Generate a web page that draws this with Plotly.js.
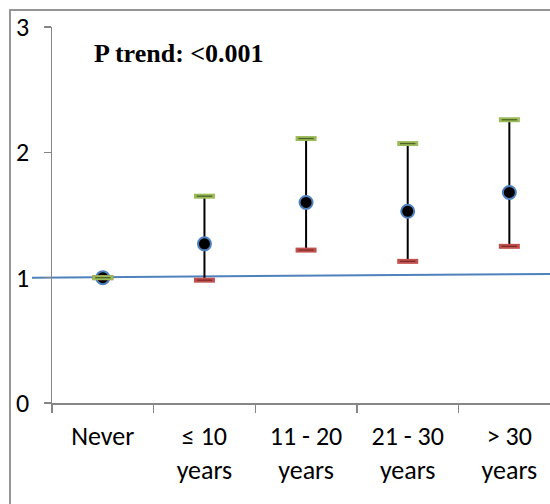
<!DOCTYPE html>
<html>
<head>
<meta charset="utf-8">
<script src="https://cdn.plot.ly/plotly-3.0.1.min.js"></script>
<style>
  html, body { margin: 0; padding: 0; background: #fff; }
  #chart { width: 550px; height: 504px; }
</style>
</head>
<body>
<div id="chart"></div>
<script>
// ---- data ----
var categories = ["Never", "≤ 10<br>years", "11 - 20<br>years", "21 - 30<br>years", "> 30<br>years"];
var estimate   = [1.00, 1.27, 1.60, 1.53, 1.68];
var upperCI    = [1.00, 1.65, 2.11, 2.07, 2.26];
var lowerCI    = [1.00, 0.98, 1.22, 1.13, 1.25];
var refLineY   = [1.00, 1.03];
var yTickVals  = [0, 1, 2, 3];
var annotationText = "P trend: <0.001";

// ---- layout constants (pixel geometry of the plot area) ----
var W = 550, H = 504;
var plotLeft = 52, plotRight = 550, plotTop = 27, plotBottom = 403;
var frameLeft = 10, frameTop = 10;
function fx(px) { return px / W; }          // figure px -> paper x
function fy(py) { return 1 - py / H; }      // figure px -> paper y

var errPlus = upperCI.map(function (u, i) { return u - estimate[i]; });
var errMinus = lowerCI.map(function (l, i) { return estimate[i] - l; });

var font = "Carlito, Calibri, 'Noto Sans', 'Open Sans', sans-serif";
var frameColor = "#969696";

var traces = [
  // outer chart frame, drawn on a hidden full-figure pixel axis pair
  {
    type: "scatter", mode: "lines", xaxis: "x2", yaxis: "y2",
    x: [frameLeft, frameLeft, W + 20], y: [H + 20, frameTop, frameTop],
    line: {color: frameColor, width: 2}, cliponaxis: false,
    hoverinfo: "skip", showlegend: false
  },
  {
    type: "scatter", mode: "markers", x: categories, y: estimate,
    marker: {symbol: "circle", size: 13, color: "#000000", line: {color: "#4F81BD", width: 2}},
    error_y: {type: "data", symmetric: false, array: errPlus, arrayminus: errMinus,
              color: "#000000", thickness: 2, width: 0},
    hoverinfo: "x+y", showlegend: false
  },
  {
    type: "scatter", mode: "markers", x: categories, y: lowerCI,
    marker: {symbol: "line-ew", size: 15, color: "#C0504D", line: {color: "#C0504D", width: 5}},
    showlegend: false, hoverinfo: "y"
  },
  {
    type: "scatter", mode: "markers", x: categories, y: lowerCI,
    marker: {symbol: "line-ew", size: 11, color: "#7F2A28", line: {color: "#7F2A28", width: 1.3}},
    showlegend: false, hoverinfo: "skip"
  },
  {
    type: "scatter", mode: "markers", x: categories, y: upperCI,
    marker: {symbol: "line-ew", size: 15, color: "#9BBB59", line: {color: "#9BBB59", width: 5}},
    showlegend: false, hoverinfo: "y"
  },
  {
    type: "scatter", mode: "markers", x: categories, y: upperCI,
    marker: {symbol: "line-ew", size: 11, color: "#4F6228", line: {color: "#4F6228", width: 1.3}},
    showlegend: false, hoverinfo: "skip"
  }
];

var layout = {
  width: W, height: H,
  margin: {l: 0, r: 0, t: 0, b: 0, pad: 0},
  paper_bgcolor: "#ffffff", plot_bgcolor: "rgba(0,0,0,0)",
  showlegend: false,
  font: {family: font, size: 26, color: "#000000"},
  xaxis: {
    domain: [fx(plotLeft), fx(plotRight)], automargin: false,
    type: "category", range: [-0.5, 4.4], tickson: "boundaries",
    ticks: "outside", ticklen: 8, tickwidth: 1.5, tickcolor: "#868686",
    showline: true, linecolor: "#868686", linewidth: 1.5, showgrid: false, zeroline: false,
    tickfont: {family: font, size: 26, color: "#000000"}, ticklabelstandoff: 9,
    fixedrange: true
  },
  yaxis: {
    domain: [fy(plotBottom), fy(plotTop)], automargin: false,
    range: [0, 3], tickmode: "array", tickvals: yTickVals, ticktext: yTickVals.map(String),
    ticks: "outside", ticklen: 7, tickwidth: 1.5, tickcolor: "#868686",
    showline: true, linecolor: "#868686", linewidth: 1.5, showgrid: false, zeroline: false,
    tickfont: {family: font, size: 26, color: "#000000"}, ticklabelstandoff: 9,
    fixedrange: true
  },
  xaxis2: {domain: [0, 1], range: [0, W], visible: false, fixedrange: true},
  yaxis2: {domain: [0, 1], range: [H, 0], visible: false, fixedrange: true, anchor: "x2"},
  shapes: [
    {type: "line", xref: "paper", yref: "y", x0: fx(32), x1: 1,
     y0: refLineY[0], y1: refLineY[1], line: {color: "#4F81BD", width: 2}, layer: "below"}
  ],
  annotations: [
    {text: "<b>" + annotationText + "</b>", xref: "paper", yref: "paper",
     x: fx(179), y: fy(54), xanchor: "center", yanchor: "middle",
     showarrow: false, font: {family: "'Liberation Serif', 'Times New Roman', serif", size: 26, color: "#000000"}}
  ]
};

Plotly.newPlot("chart", traces, layout, {displayModeBar: false, staticPlot: true});
</script>
</body>
</html>
